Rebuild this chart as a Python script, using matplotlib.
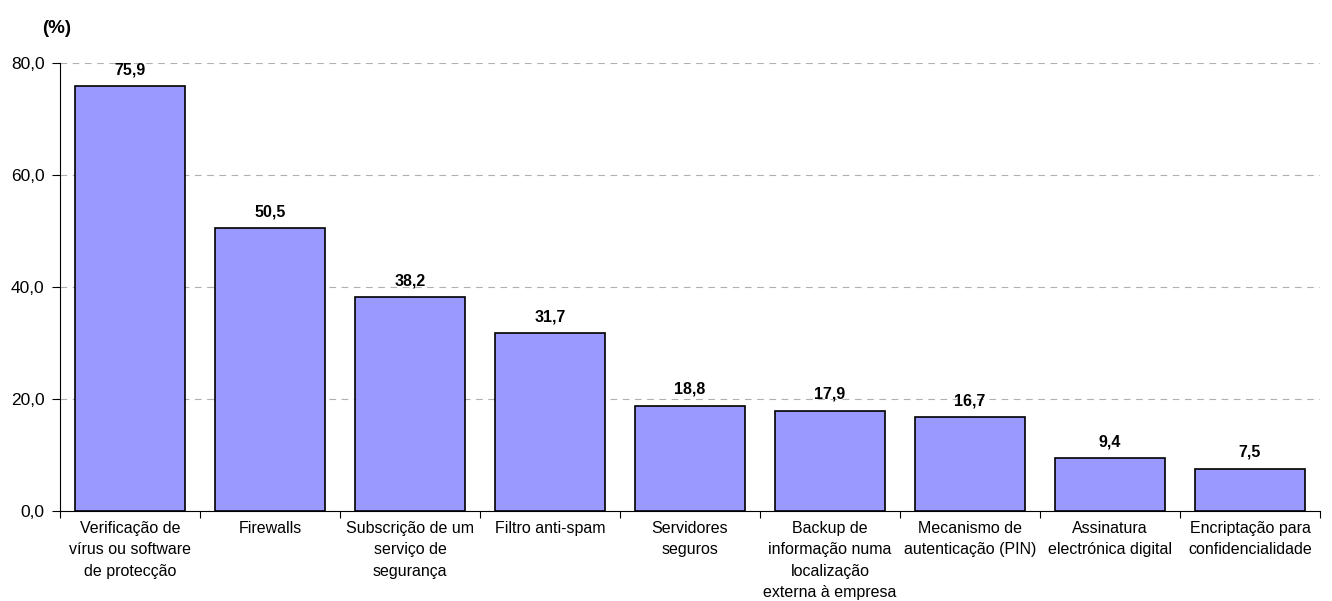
import numpy as np
import matplotlib.pyplot as plt

plt.rcParams['font.family'] = ['Liberation Sans', 'DejaVu Sans']

# data
categorias = ['Verificação de\nvírus ou software\nde protecção',
              'Firewalls',
              'Subscrição de um\nserviço de\nsegurança',
              'Filtro anti-spam',
              'Servidores\nseguros',
              'Backup de\ninformação numa\nlocalização\nexterna à empresa',
              'Mecanismo de\nautenticação (PIN)',
              'Assinatura\nelectrónica digital',
              'Encriptação para\nconfidencialidade']
valores = [75.9, 50.5, 38.2, 31.7, 18.8, 17.9, 16.7, 9.4, 7.5]

fig = plt.figure(figsize=(13.32, 6.01), dpi=100)
ax = fig.add_axes([0.045, 0.15, 0.946, 0.745])

x = np.arange(len(valores))
ax.bar(x, valores, width=0.79, color='#9999FF', edgecolor='black', linewidth=1.2, zorder=3)

for xi, v in zip(x, valores):
    ax.text(xi, v + 1.6, ('%.1f' % v).replace('.', ','), ha='center', va='bottom',
            fontsize=11.5, fontweight='bold')

ax.set_xlim(-0.5, len(valores) - 0.5)
ax.set_ylim(0, 80)
ax.set_yticks([0, 20, 40, 60, 80])
ax.set_yticklabels(['0,0', '20,0', '40,0', '60,0', '80,0'], fontsize=12.5)
ax.yaxis.grid(True, linestyle=(0, (6, 5)), color='#b0b0b0', linewidth=0.8, zorder=0)

# ticks between categories, labels at the centres
ax.set_xticks(np.arange(-0.5, len(valores), 1.0))
ax.set_xticklabels([])
ax.set_xticks(x, minor=True)
ax.set_xticklabels(categorias, minor=True, fontsize=11.5, linespacing=1.55, va='top')
ax.tick_params(axis='x', which='minor', length=0, pad=7)
ax.tick_params(axis='x', which='major', length=5, direction='out')
ax.tick_params(axis='y', length=6, direction='out', pad=5)

for s in ['top', 'right']:
    ax.spines[s].set_visible(False)

fig.text(0.032, 0.945, '(%)', fontsize=13.5, fontweight='bold')

fig.savefig('out.png', dpi=100)
